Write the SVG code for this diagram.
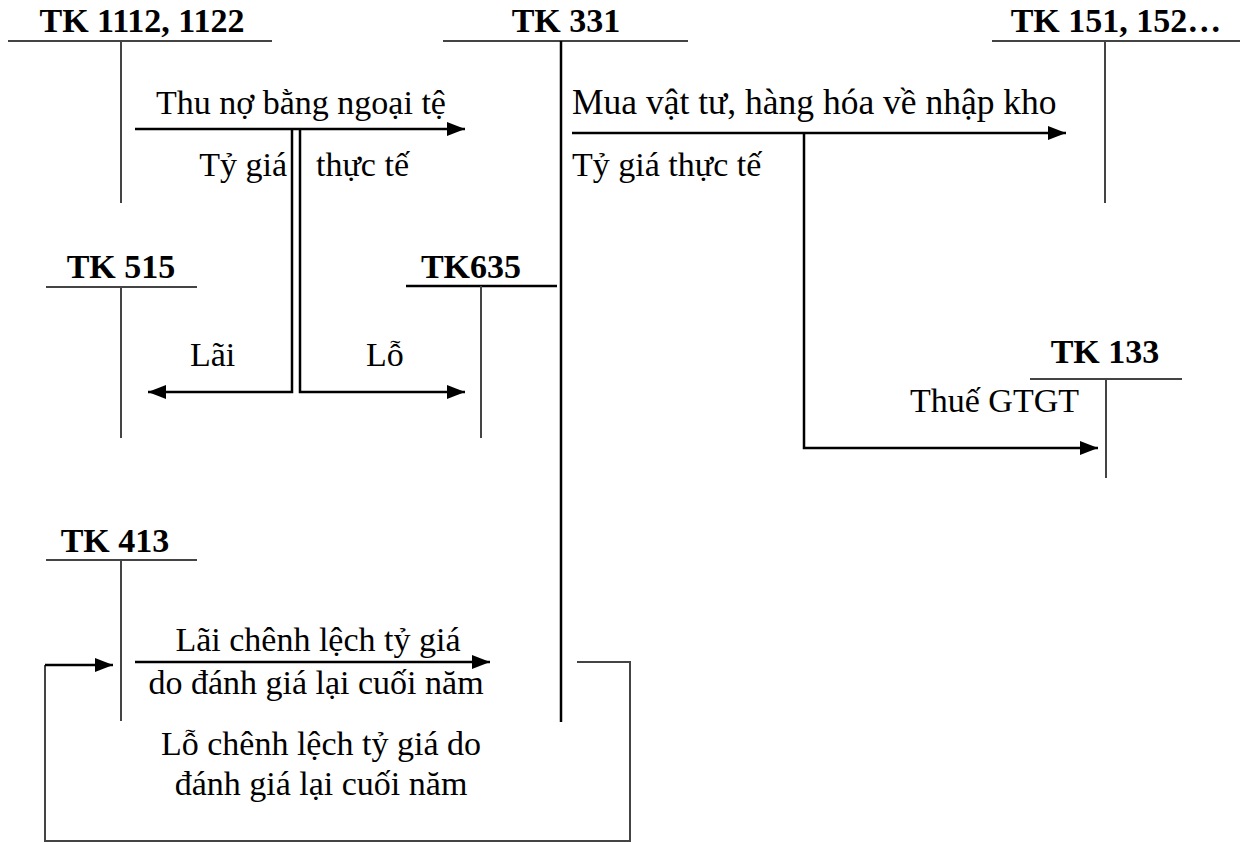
<svg xmlns="http://www.w3.org/2000/svg" width="1240" height="843" viewBox="0 0 1240 843">
<style>
.t{font-family:"Liberation Serif","Times New Roman",serif;font-size:34px;fill:#000}
.h{font-family:"Liberation Serif","Times New Roman",serif;font-size:34px;font-weight:bold;fill:#000;text-anchor:middle}
.acc{stroke:#444;stroke-width:2;fill:none}
.c{stroke:#000;stroke-width:2.5;fill:none}
.m{text-anchor:middle}
.e{text-anchor:end}
</style>
<defs>
<marker id="ah" markerUnits="userSpaceOnUse" markerWidth="20" markerHeight="16" refX="18" refY="8" orient="auto">
<path d="M0,1 L18,8 L0,15 Z" fill="#000"/>
</marker>
</defs>
<rect width="1240" height="843" fill="#fff"/>
<g id="tk1112">
<text class="h" x="142" y="32">TK 1112, 1122</text>
<path class="acc" d="M8,41 H272 M121,41 V203"/>
</g>
<g id="tk331">
<text class="h" x="566" y="32">TK 331</text>
<path class="acc" d="M443,41 H688"/>
<path class="c" d="M561,41 V722"/>
</g>
<g id="tk151">
<text class="h" x="1116" y="32">TK 151, 152…</text>
<path class="acc" d="M992,41 H1240 M1105,41 V203"/>
</g>
<g id="tk515">
<text class="h" x="121" y="278">TK 515</text>
<path class="acc" d="M46,287 H197 M121,287 V438"/>
</g>
<g id="tk635">
<text class="h" x="471" y="278">TK635</text>
<path class="c" d="M406,286 H557"/>
<path class="acc" d="M481,286 V438"/>
</g>
<g id="tk133">
<text class="h" x="1105" y="363">TK 133</text>
<path class="acc" d="M1030,379 H1182 M1106,379 V478"/>
</g>
<g id="tk413">
<text class="h" x="115" y="552">TK 413</text>
<path class="acc" d="M46,560 H197 M121,560 V721"/>
</g>
<g id="connectors">
<path class="c" d="M135,129 H465" marker-end="url(#ah)"/>
<path class="c" d="M292,129 V392 H148" marker-end="url(#ah)"/>
<path class="c" d="M300,129 V392 H465" marker-end="url(#ah)"/>
<path class="c" d="M572,133 H1066" marker-end="url(#ah)"/>
<path class="c" d="M804,133 V448 H1098" marker-end="url(#ah)"/>
<path class="c" d="M135,662 H490" marker-end="url(#ah)"/>
<path class="acc" d="M577,662 H630 V841 H45 V665"/>
<path class="c" d="M45,665 H113" marker-end="url(#ah)"/>
</g>
<g id="labels">
<text class="t" x="156" y="114">Thu nợ bằng ngoại tệ</text>
<text class="t e" x="287" y="176">Tỷ giá</text>
<text class="t" x="316" y="176">thực tế</text>
<text class="t" x="572" y="114" style="font-size:35.5px">Mua vật tư, hàng hóa về nhập kho</text>
<text class="t" x="572" y="176">Tỷ giá thực tế</text>
<text class="t" x="190" y="366">Lãi</text>
<text class="t" x="366" y="366">Lỗ</text>
<text class="t" x="910" y="412">Thuế GTGT</text>
<text class="t m" x="318" y="651">Lãi chênh lệch tỷ giá</text>
<text class="t m" x="316" y="694">do đánh giá lại cuối năm</text>
<text class="t m" x="321" y="755">Lỗ chênh lệch tỷ giá do</text>
<text class="t m" x="321" y="795">đánh giá lại cuối năm</text>
</g>
</svg>
